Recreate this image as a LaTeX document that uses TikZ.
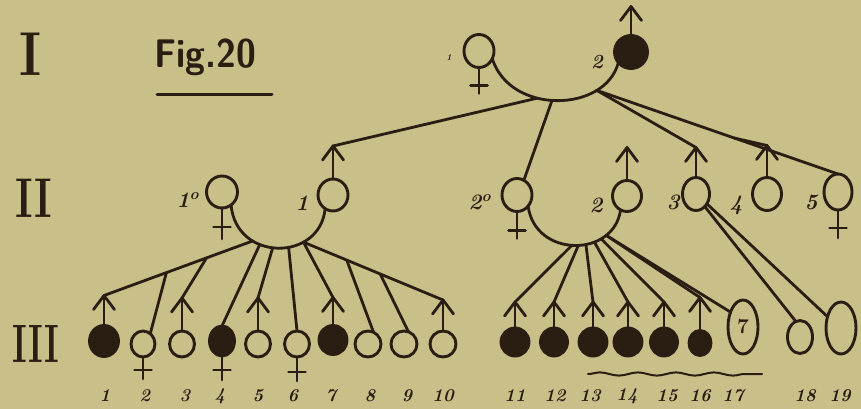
\documentclass[tikz,border=0pt]{standalone}
\usetikzlibrary{shapes.geometric,calc,decorations.pathmorphing}
\definecolor{bgc}{RGB}{201,191,137}
\definecolor{inkc}{RGB}{42,30,18}
\tikzset{
  ink/.style={draw=inkc, line width=2.8pt, line cap=round, line join=round},
  opn/.style={ellipse, draw=inkc, line width=2.9pt, inner sep=0pt, outer sep=0pt},
  fld/.style={opn, fill=inkc},
  sz/.style 2 args={minimum width=#1pt, minimum height=#2pt},
  lbl/.style={text=inkc, inner sep=0pt, font=\fontsize{18}{18}\selectfont\bfseries\itshape},
  lblb/.style={text=inkc, inner sep=0pt, font=\fontsize{22}{22}\selectfont\bfseries\itshape},
  roman/.style={text=inkc, inner sep=0pt},
}
\newcommand\mymale[2]{%
  \draw[ink] (#1.north) -- ++(0,-#2) coordinate (#1-t);
  \draw[ink] ($(#1-t)+(-10.5,14)$) -- (#1-t) -- ($(#1-t)+(10.5,14)$);}
\newcommand\myfem[3]{%
  \draw[ink] (#1.south) -- ++(0,#2) coordinate (#1-b);
  \draw[ink] ($(#1.south)+(-8.5,#3)$) -- ($(#1.south)+(8.5,#3)$);}
\begin{document}
\begin{tikzpicture}[x=1pt,y=-1pt]
\fill[bgc] (0,0) rectangle (861,409);
\path[use as bounding box] (0,0) rectangle (861,409);

% generation numerals and title
\node[roman, font=\fontsize{62}{62}\selectfont\bfseries] (nI) at (31,54) {\scalebox{0.85}[1]{I}};
\node[roman, font=\fontsize{56}{56}\selectfont\bfseries] (nII) at (34,198) {\scalebox{0.75}[1]{II}};
\node[roman, font=\fontsize{54}{54}\selectfont\bfseries] (nIII) at (36,344) {\scalebox{0.65}[1]{III}};
\node[text=inkc, inner sep=0pt, anchor=base west, font=\sffamily\bfseries\fontsize{40}{40}\selectfont] (fig) at (154,68) {\scalebox{0.9}[1]{Fig.20}};
\draw[ink, line width=3pt] (157,95) -- (272,95);

% generation I
\node[opn, sz={30}{33}] (g1a) at (479,51) {};
\myfem{g1a}{26}{18}
\node[lbl, font=\fontsize{9}{9}\selectfont\bfseries\itshape] (l1a) at (449,58) {1};
\node[fld, sz={33}{33}] (g1b) at (631,52) {};
\mymale{g1b}{29}
\node[lbl, font=\fontsize{20}{20}\selectfont\bfseries\itshape] (l1b) at (597,62) {2};
\draw[ink] (g1a.-30) .. controls (510,115) and (605,113) .. (g1b.-140)
  coordinate[pos=0.38] (j1) coordinate[pos=0.47] (j2) coordinate[pos=0.76] (j3);

% generation II
\node[opn, sz={31}{32}] (m2a) at (222,192) {};
\myfem{m2a}{31}{19}
\node[lblb] (l2a) at (188,200) {1\textsuperscript{o}};
\node[opn, sz={30}{32}] (m2b) at (333,195) {};
\mymale{m2b}{33}
\node[lblb] (l2b) at (302,203) {1};
\node[opn, sz={30}{33}] (m2c) at (517,195) {};
\myfem{m2c}{27}{19}
\node[lblb] (l2c) at (480,202) {2\textsuperscript{o}};
\node[opn, sz={29}{31}] (m2d) at (627,196) {};
\mymale{m2d}{33}
\node[lblb] (l2d) at (596,205) {2};
\node[opn, sz={27}{33}] (m2e) at (696,194) {};
\mymale{m2e}{30}
\node[lblb] (l2e) at (673,202) {3};
\node[opn, sz={29}{33}] (m2f) at (767,194) {};
\mymale{m2f}{32}
\node[lblb] (l2f) at (736,205) {4};
\node[opn, sz={28}{36}] (m2g) at (838,192) {};
\myfem{m2g}{28}{18}
\node[lblb] (l2g) at (811,202) {5};

\draw[ink] (j1) -- (m2b-t);
\draw[ink] (j2) -- (m2c.65);
\draw[ink] (j3) -- (m2e-t);
\draw[ink] (j3) -- (m2g.north) coordinate[pos=0.57] (j4);
\draw[ink] (j4) -- (m2f-t);

% generation III, left family
\node[fld, sz={29}{31}] (r1) at (104,341) {}; \mymale{r1}{30}
\node[opn, sz={24}{26}] (r2) at (143,344) {}; \myfem{r2}{22}{13}
\node[opn, sz={25}{26}] (r3) at (182,344) {}; \mymale{r3}{33}
\node[fld, sz={25}{30}] (r4) at (222,341) {}; \myfem{r4}{24}{14}
\node[opn, sz={25}{26}] (r5) at (258,344) {}; \mymale{r5}{33}
\node[opn, sz={25}{26}] (r6) at (297,344) {}; \myfem{r6}{24}{15}
\node[fld, sz={28}{29}] (r7) at (333,340) {}; \mymale{r7}{28}
\node[opn, sz={26}{26}] (r8) at (368,344) {};
\node[opn, sz={26}{26}] (r9) at (404,344) {};
\node[opn, sz={26}{26}] (r10) at (443,344) {}; \mymale{r10}{31}

\draw[ink] (m2a.-55) .. controls (236,262) and (320,262) .. (m2b.-120)
  coordinate[pos=0.3] (fa) coordinate[pos=0.36] (fb) coordinate[pos=0.46] (fc)
  coordinate[pos=0.58] (fd) coordinate[pos=0.7] (fe);
\draw[ink] (fa) -- (r1-t) coordinate[pos=0.31] (fa3) coordinate[pos=0.58] (fa2);
\draw[ink] (fa2) -- (r2.55);
\draw[ink] (fa3) -- (r3-t);
\draw[ink] (fb) -- (r4.north);
\draw[ink] (fc) -- (r5-t);
\draw[ink] (fd) -- (r6.north);
\draw[ink] (fe) -- (r7-t);
\draw[ink] (fe) -- (r10-t) coordinate[pos=0.31] (fe8) coordinate[pos=0.55] (fe9);
\draw[ink] (fe8) -- (r8.65);
\draw[ink] (fe9) -- (r9.70);

% generation III, right family
\node[fld, sz={28}{28}] (r11) at (515,342) {}; \mymale{r11}{26}
\node[fld, sz={27}{28}] (r12) at (554,342) {}; \mymale{r12}{26}
\node[fld, sz={28}{28}] (r13) at (593,342) {}; \mymale{r13}{26}
\node[fld, sz={28}{28}] (r14) at (628,342) {}; \mymale{r14}{26}
\node[fld, sz={27}{28}] (r15) at (664,342) {}; \mymale{r15}{26}
\node[fld, sz={22}{25}] (r16) at (700,343) {}; \mymale{r16}{33}
\node[opn, sz={30}{54}, text=inkc, font=\fontsize{21}{21}\selectfont\bfseries] (r17) at (743,327) {7};
\node[opn, sz={25}{33}] (r18) at (800,337) {};
\node[opn, sz={30}{52}] (r19) at (841,328) {};

\draw[ink] (m2c.-45) .. controls (535,258) and (614,258) .. (m2d.-115)
  coordinate[pos=0.48] (ga) coordinate[pos=0.53] (gb) coordinate[pos=0.59] (gc)
  coordinate[pos=0.66] (gd) coordinate[pos=0.72] (ge) coordinate[pos=0.77] (gf);
\draw[ink] (ga) -- (r11-t);
\draw[ink] (gb) -- (r12-t);
\draw[ink] (gc) -- (r13-t);
\draw[ink] (gd) -- (r14-t);
\draw[ink] (ge) -- (r15-t);
\draw[ink] (gf) -- (r16-t);
\draw[ink] (gf) -- (r17.130);
\draw[ink] (m2e.-55) -- (r18.105);
\draw[ink] (m2e.-42) -- (r19.140);

% wavy underline
\draw[ink, line width=2pt, decorate, decoration={snake, amplitude=1.6pt, segment length=38pt}] (588,374) -- (762,374);

% labels row III
\foreach \t/\x in {1/105,2/145,3/185,4/220,5/258,6/293,7/331,8/370,9/407,10/443,
                   11/515,12/555,13/590,14/627,15/667,16/700,17/733,18/805,19/840}{
  \node[lbl] (n\t) at (\x,396) {\t};
}
\end{tikzpicture}
\end{document}
